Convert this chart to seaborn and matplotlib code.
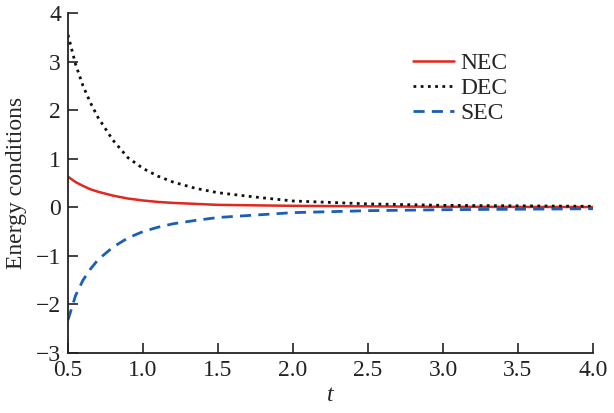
import matplotlib
matplotlib.use("Agg")
import matplotlib.pyplot as plt
import seaborn as sns
import pandas as pd

t = [0.5, 0.55, 0.6, 0.65, 0.7, 0.8, 0.9, 1.0, 1.1, 1.2, 1.35, 1.5, 1.75, 2.0, 2.5, 3.0, 3.5, 4.0]
nec = [0.63, 0.52, 0.44, 0.37, 0.32, 0.24, 0.18, 0.14, 0.11, 0.09, 0.07, 0.05, 0.04, 0.03, 0.02, 0.01, 0.008, 0.005]
dec = [3.55, 2.95, 2.5, 2.15, 1.85, 1.38, 1.02, 0.8, 0.64, 0.52, 0.39, 0.30, 0.21, 0.13, 0.07, 0.04, 0.03, 0.02]
sec = [-2.32, -1.82, -1.5, -1.27, -1.08, -0.82, -0.63, -0.5, -0.41, -0.34, -0.27, -0.21, -0.16, -0.11, -0.07, -0.05, -0.04, -0.03]

xticks = [0.5, 1.0, 1.5, 2.0, 2.5, 3.0, 3.5, 4.0]
yticks = [-3, -2, -1, 0, 1, 2, 3, 4]
ytick_labels = ["\u22123", "\u22122", "\u22121", "0", "1", "2", "3", "4"]

sns.set_style("ticks")
plt.rcParams["font.family"] = "Liberation Serif"
plt.rcParams["mathtext.fontset"] = "custom"
plt.rcParams["mathtext.it"] = "Liberation Serif:italic"
plt.rcParams["mathtext.rm"] = "Liberation Serif"

fig = plt.figure(figsize=(6.14, 4.13), dpi=100)
ax = fig.add_axes([68 / 614, 1 - 353 / 413, (593 - 68) / 614, (353 - 13) / 413])

df = pd.DataFrame({"t": t, "NEC": nec, "DEC": dec, "SEC": sec})
sns.lineplot(data=df, x="t", y="NEC", ax=ax, color="#e0281e", lw=1.8, label="NEC")
sns.lineplot(data=df, x="t", y="DEC", ax=ax, color="#111111", lw=2.0, label="DEC",
             linestyle=(0, (1, 1.6)))
sns.lineplot(data=df, x="t", y="SEC", ax=ax, color="#1a5fb4", lw=2.0, label="SEC",
             linestyle=(0, (4, 2.6)))

ax.set_xlim(0.5, 4.0)
ax.set_ylim(-3, 4)
ax.set_xticks(xticks)
ax.set_xticklabels([f"{v:.1f}" for v in xticks])
ax.set_yticks(yticks)
ax.set_yticklabels(ytick_labels)
ax.tick_params(direction="in", length=7, width=1.2, labelsize=17, colors="#222222", pad=5)
for s in ["top", "right"]:
    ax.spines[s].set_visible(False)
for s in ["left", "bottom"]:
    ax.spines[s].set_linewidth(1.3)
    ax.spines[s].set_color("#222222")

ax.set_xlabel("$t$", fontsize=17, labelpad=3)
ax.set_ylabel("Energy conditions", fontsize=17, labelpad=6)

ax.legend(loc="upper left", bbox_to_anchor=(401 / 614, 1 - 41 / 413),
          bbox_transform=fig.transFigure, frameon=False, fontsize=17,
          handlelength=1.75, handletextpad=0.25, labelspacing=0.15, borderpad=0)

fig.savefig("out.png", dpi=100)
